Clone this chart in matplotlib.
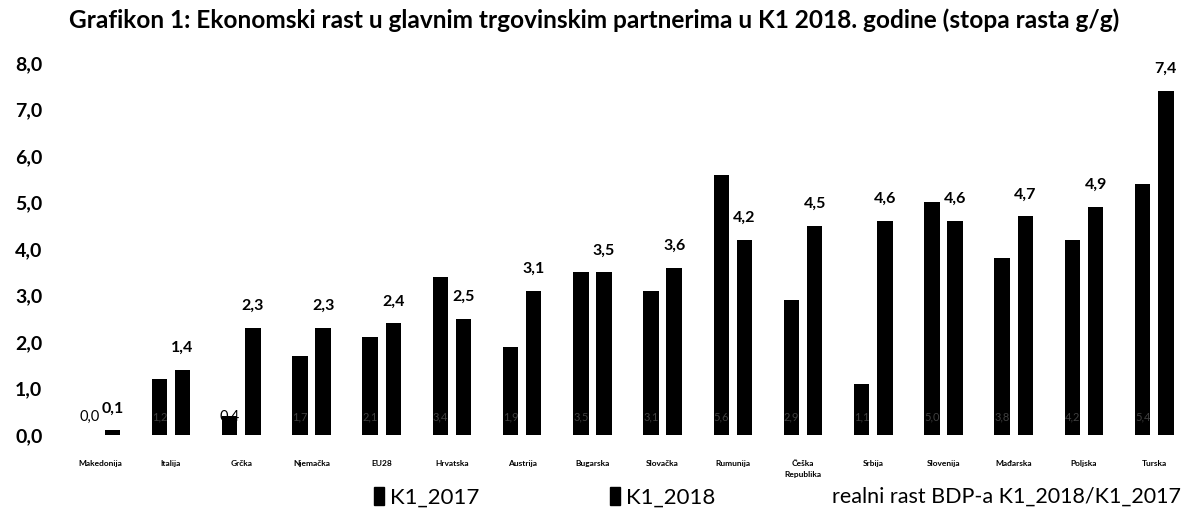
import matplotlib
matplotlib.use("Agg")
import matplotlib.pyplot as plt
from matplotlib.patches import Patch
import numpy as np

plt.rcParams['font.family'] = ['Lato', 'DejaVu Sans']

zemlje = ['Makedonija', 'Italija', 'Grčka', 'Njemačka', 'EU28', 'Hrvatska', 'Austrija',
          'Bugarska', 'Slovačka', 'Rumunija', 'Češka\nRepublika', 'Srbija', 'Slovenija',
          'Mađarska', 'Poljska', 'Turska']
k1_2017 = [0.0, 1.2, 0.4, 1.7, 2.1, 3.4, 1.9, 3.5, 3.1, 5.6, 2.9, 1.1, 5.0, 3.8, 4.2, 5.4]
k1_2018 = [0.1, 1.4, 2.3, 2.3, 2.4, 2.5, 3.1, 3.5, 3.6, 4.2, 4.5, 4.6, 4.6, 4.7, 4.9, 7.4]
y_ticks = [0, 1, 2, 3, 4, 5, 6, 7, 8]

def fmt(v):
    return f"{v:.1f}".replace('.', ',')

fig = plt.figure(figsize=(11.89, 5.20), dpi=100)
ax = fig.add_axes([0.052, 0.1635, 0.94, 0.7155])

x = np.arange(len(zemlje))
w = 0.22
off = 0.165
b1 = ax.bar(x - off, k1_2017, w, color='black', label='K1_2017', zorder=2)
b2 = ax.bar(x + off, k1_2018, w, color='black', label='K1_2018', zorder=2)

# 2017 labels at the inside base: faint inside the bar, black only for the tiny bars
for xi, v in zip(x, k1_2017):
    if v < 0.6:
        ax.text(xi - off, 0.39, fmt(v), ha='center', va='center', fontsize=10.5,
                color='black', zorder=3)
    else:
        ax.text(xi - off, 0.39, fmt(v), ha='center', va='center', fontsize=8,
                color='white', alpha=0.25, zorder=3)
# 2018 labels above the bars
for xi, v in zip(x, k1_2018):
    ax.text(xi + off, v + 0.47, fmt(v), ha='center', va='center', fontsize=11.5,
            fontweight='bold', color='black', zorder=4,
            bbox=dict(facecolor='white', edgecolor='none', pad=0.5))

ax.set_ylim(0, 8)
ax.set_xlim(-0.555, 15.36)
ax.set_yticks(y_ticks)
ax.set_yticklabels([fmt(t) for t in y_ticks], fontsize=14, fontweight='bold')
ax.tick_params(axis='y', length=0, pad=14)
ax.set_xticks(x)
ax.set_xticklabels(zemlje, fontsize=6, fontweight='bold', va='top', linespacing=1.6)
ax.tick_params(axis='x', length=0, pad=18)
for s in ax.spines.values():
    s.set_visible(False)

fig.text(0.5, 0.962, 'Grafikon 1: Ekonomski rast u glavnim trgovinskim partnerima u K1 2018. godine (stopa rasta g/g)',
         ha='center', va='center', fontsize=17.6, fontweight='bold')

fig.legend(handles=[Patch(color='black'), Patch(color='black')], labels=['K1_2017', 'K1_2018'],
           loc='center', bbox_to_anchor=(0.458, 0.044), ncol=2, frameon=False, fontsize=16,
           handlelength=0.45, handleheight=0.9, handletextpad=0.25, columnspacing=5.9)
fig.text(0.993, 0.044, 'realni rast BDP-a K1_2018/K1_2017', ha='right', va='center', fontsize=15.5)

fig.savefig('out.png', dpi=100)
